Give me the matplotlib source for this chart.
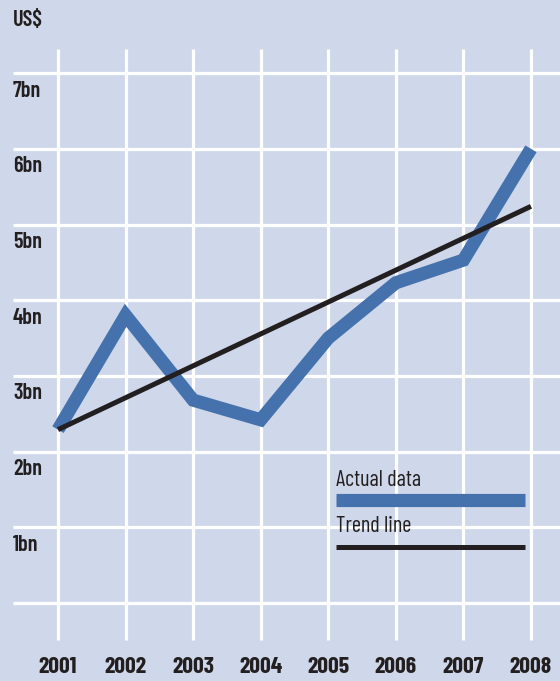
import matplotlib
matplotlib.use("Agg")
import matplotlib.pyplot as plt

FONT = ['Barlow Condensed', 'Archivo Narrow', 'DejaVu Sans']

years = [2001, 2002, 2003, 2004, 2005, 2006, 2007, 2008]
actual = [2.29, 3.80, 2.68, 2.42, 3.50, 4.23, 4.53, 6.00]
trend_years = [2001, 2008]
trend = [2.29, 5.24]
y_ticks = [1, 2, 3, 4, 5, 6, 7]
y_labels = ['1bn', '2bn', '3bn', '4bn', '5bn', '6bn', '7bn']
x_labels = ['2001', '2002', '2003', '2004', '2005', '2006', '2007', '2008']

BG = '#cfd8ea'
BLUE = '#4572ad'
DARK = '#231f20'

fig = plt.figure(figsize=(5.6, 6.81), dpi=100)
fig.patch.set_facecolor(BG)
ax = fig.add_axes([0, 0, 1, 1])
ax.set_facecolor(BG)
ax.axis('off')

# pixel mapping
xs = 67.57
ys = 75.7
x0 = 2001 - 58 / xs
x1 = 2001 + (560 - 58) / xs
yb = (603 - 681) / ys
yt = 603 / ys
ax.set_xlim(x0, x1)
ax.set_ylim(yb, yt)

# grid
gx_left = x0 + 13 / xs
for v in range(0, 8):
    ax.plot([gx_left, x1], [v, v], color='white', lw=2.3, zorder=1, solid_capstyle='butt')
for yr in years:
    ax.plot([yr, yr], [(603 - 640) / ys, (603 - 49) / ys], color='white', lw=2.3, zorder=1,
            solid_capstyle='butt')

ax.plot(years, actual, color=BLUE, lw=9.5, zorder=3, solid_capstyle='butt', solid_joinstyle='miter')
ax.plot(trend_years, trend, color=DARK, lw=3.6, zorder=4, solid_capstyle='butt')

for yr, lab in zip(years, x_labels):
    ax.text(yr, (603 - 667) / ys, lab, ha='center', va='center', fontsize=17,
            fontweight='bold', color=DARK, family=FONT)
for v, lab in zip(y_ticks, y_labels):
    ax.text(gx_left, v - 0.23, lab, ha='left', va='center', fontsize=16,
            fontweight='semibold', color=DARK, family=FONT)
ax.text(gx_left, (603 - 20) / ys, 'US$', ha='left', va='center', fontsize=16,
        fontweight='semibold', color=DARK, family=FONT)

# legend
lx0 = x0 + 336 / xs
lx1 = x0 + 525 / xs
ax.text(lx0, (603 - 480) / ys, 'Actual data', ha='left', va='center', fontsize=16,
        color=DARK, family=FONT)
ax.plot([lx0, lx1], [(603 - 500) / ys] * 2, color=BLUE, lw=9.5, solid_capstyle='butt', zorder=5)
ax.text(lx0, (603 - 527) / ys, 'Trend line', ha='left', va='center', fontsize=16,
        color=DARK, family=FONT)
ax.plot([lx0, lx1], [(603 - 547) / ys] * 2, color=DARK, lw=3.6, solid_capstyle='butt', zorder=5)

fig.savefig('out.png', dpi=100, facecolor=BG)
